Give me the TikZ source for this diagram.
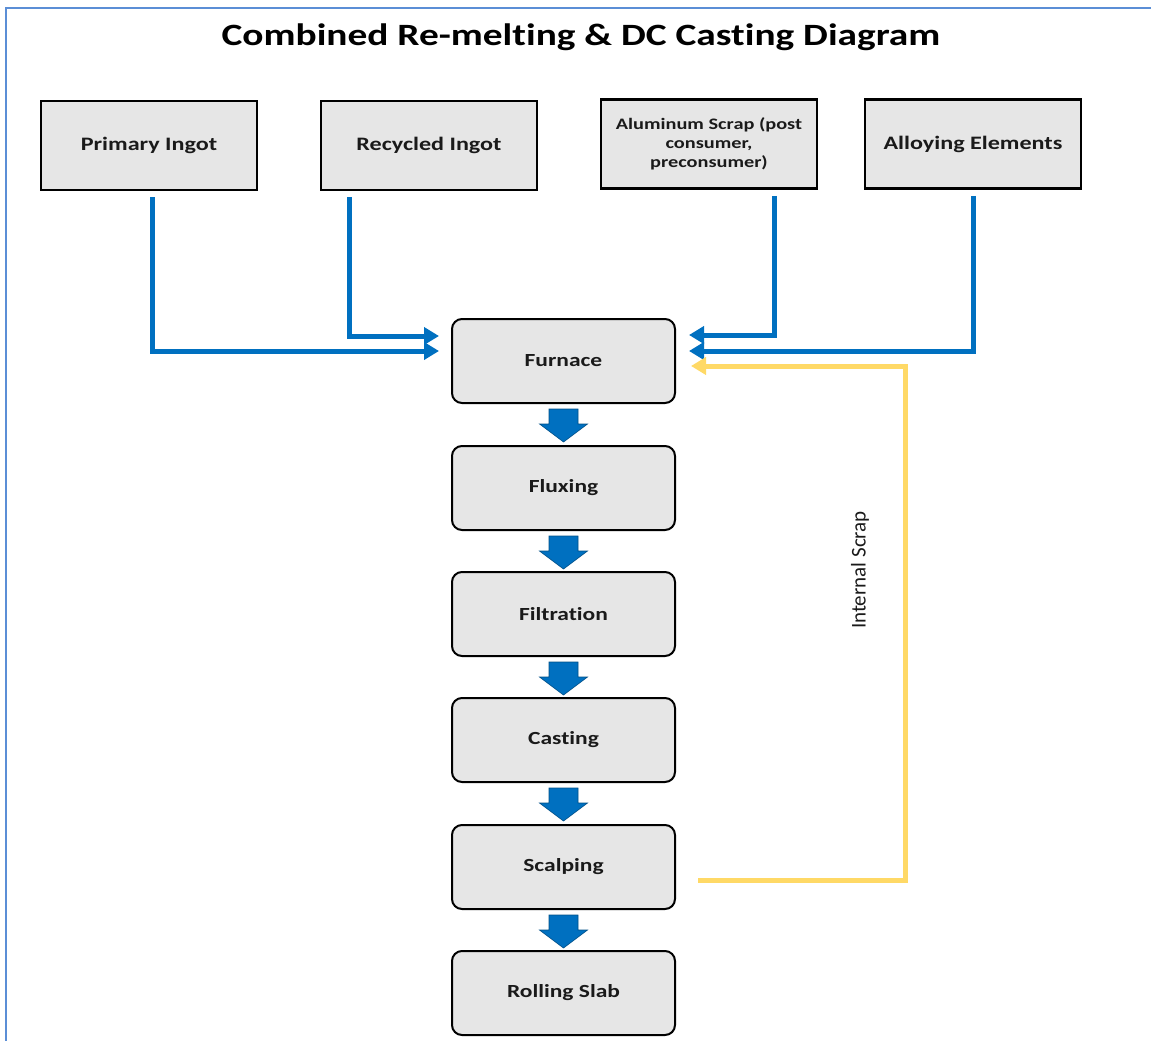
\documentclass[tikz,border=0pt]{standalone}
\usepackage{fontspec}
\setmainfont[FakeStretch=1.27, Ligatures=NoCommon]{Carlito}
\newfontfamily\labelfont[Ligatures=NoCommon]{Carlito}
\usetikzlibrary{arrows.meta,calc}

\definecolor{flowblue}{HTML}{0070C0}
\definecolor{scrapgold}{HTML}{FFD966}
\definecolor{boxgray}{HTML}{E6E6E6}
\definecolor{framecol}{HTML}{5B8ED6}
\definecolor{inkcol}{HTML}{1A1A1A}

\tikzset{
  source/.style={draw=black, line width=2.6pt, fill=boxgray,
    minimum width=216pt, minimum height=89pt, inner sep=0pt,
    align=center, text=inkcol, font=\fontsize{19}{22}\selectfont\bfseries},
  stage/.style={draw=black, line width=2pt, fill=boxgray, rounded corners=10pt,
    minimum width=223pt, minimum height=84pt, inner sep=0pt,
    text=inkcol, font=\fontsize{18.5}{22}\selectfont\bfseries},
  flow/.style={draw=flowblue, line width=5pt,
    -{Triangle[length=15pt,width=17pt]}},
  scrapflow/.style={draw=scrapgold, line width=5pt,
    -{Triangle[length=15pt,width=17pt]}},
  downarrow/.pic={
    \filldraw[fill=flowblue, draw=flowblue!70!black, line width=0.6pt]
      (-14.5,0) -- (14.5,0) -- (14.5,15) -- (24,15) -- (0,33)
      -- (-24,15) -- (-14.5,15) -- cycle;
  }
}

\begin{document}
\begin{tikzpicture}[x=1pt, y=-1pt]
  \useasboundingbox (0,0) rectangle (1151,1041);

  % page frame (top and left edges)
  \draw[framecol, line width=2.5pt] (6,1041) -- (6,8) -- (1151,8);

  % title
  \node[font=\fontsize{31}{36}\selectfont\bfseries, text=black] (title)
    at (581,37) {Combined Re-melting \& DC Casting Diagram};

  % input materials
  \node[source] (prim)  at (149,145.5) {Primary Ingot};
  \node[source] (recy)  at (429,145.5) {Recycled Ingot};
  \node[source, font=\fontsize{16}{19}\selectfont\bfseries] (scrap) at (709,144)
    {Aluminum Scrap (post\\consumer,\\preconsumer)};
  \node[source] (alloy) at (973,144) {Alloying Elements};

  % process stages
  \node[stage] (furn) at (563.5,361) {Furnace};
  \node[stage] (flux) at (563.5,488) {Fluxing};
  \node[stage] (filt) at (563.5,614) {Filtration};
  \node[stage] (cast) at (563.5,740) {Casting};
  \node[stage] (scal) at (563.5,867) {Scalping};
  \node[stage] (roll) at (563.5,993) {Rolling Slab};

  % block arrows between stages
  \foreach \a in {furn,flux,filt,cast,scal}
    \pic at ($(\a.south)+(0,5)$) {downarrow};

  % feeds into the furnace
  \draw[flow] ([xshift=3pt,yshift=-6pt]prim.south)
    |- ([xshift=-12pt,yshift=10pt]furn.west);
  \draw[flow] ([xshift=-80pt,yshift=-6pt]recy.south)
    |- ([xshift=-12pt,yshift=25pt]furn.west);
  \draw[flow] ([xshift=65pt,yshift=-6pt]scrap.south)
    |- ([xshift=13pt,yshift=26pt]furn.east);
  \draw[flow] ([yshift=-6pt]alloy.south)
    |- ([xshift=13pt,yshift=10pt]furn.east);

  % internal scrap return loop
  \coordinate (scrapstart) at ([xshift=22pt,yshift=-13pt]scal.east);
  \coordinate (scrapturn) at (905,880);
  \draw[scrapflow] (scrapstart) -- (scrapturn)
    |- ([xshift=15pt,yshift=-5pt]furn.east);
  \node[rotate=90, font=\labelfont\fontsize{21}{24}\selectfont, text=inkcol]
    (scraplabel) at (860,570) {Internal Scrap};
\end{tikzpicture}
\end{document}
